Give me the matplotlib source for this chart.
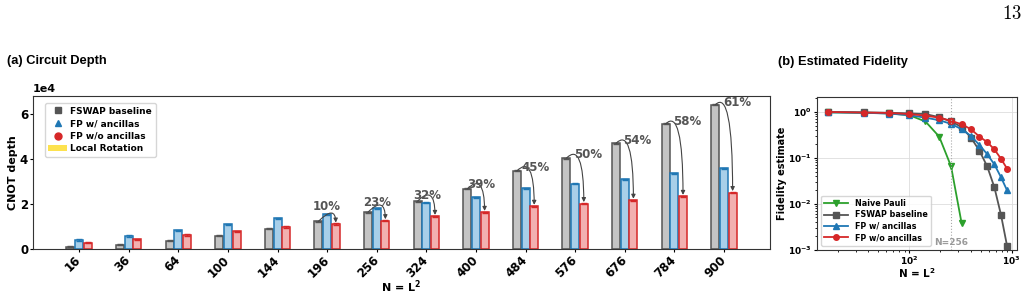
import numpy as np
import matplotlib
matplotlib.use("Agg")
import matplotlib.pyplot as plt
from matplotlib.lines import Line2D
from matplotlib.patches import Patch

plt.rcParams["font.family"] = "DejaVu Sans"
plt.rcParams["font.weight"] = "bold"
plt.rcParams["axes.labelweight"] = "bold"
plt.rcParams["mathtext.default"] = "bf"
plt.rcParams["axes.edgecolor"] = "#333333"

# --- data ---------------------------------------------------------------
n_labels = ["16", "36", "64", "100", "144", "196", "256", "324", "400",
            "484", "576", "676", "784", "900"]
n_vals = [16, 36, 64, 100, 144, 196, 256, 324, 400, 484, 576, 676, 784, 900]

depth_fswap  = [1000, 1900, 3700, 5900, 9000, 12300, 16400, 21300, 26700,
                34700, 40400, 47000, 55600, 64100]
depth_fp_anc = [4000, 5800, 8400, 10900, 13600, 15400, 18100, 20600, 23000,
                27000, 29000, 31000, 33600, 35900]
depth_fp_noanc = [2800, 4400, 6200, 7900, 9800, 11100, 12600, 14500, 16300,
                  19000, 20200, 21700, 23400, 25100]
depth_err = 250

n_naive   = [16, 36, 64, 100, 144, 196, 256, 324]
fid_naive = [0.98, 0.96, 0.93, 0.85, 0.62, 0.29, 0.065, 0.0038]
fid_fswap = [1.0, 0.98, 0.96, 0.93, 0.90, 0.77, 0.62, 0.47, 0.275, 0.143,
             0.065, 0.023, 0.0058, 0.0012]
fid_fp_anc = [0.98, 0.96, 0.92, 0.85, 0.75, 0.66, 0.55, 0.42, 0.30, 0.19,
              0.12, 0.072, 0.038, 0.0195]
fid_fp_noanc = [1.0, 0.97, 0.95, 0.90, 0.83, 0.75, 0.64, 0.54, 0.42, 0.29,
                0.22, 0.153, 0.096, 0.058]

GRAY, BLUE, RED, GREEN = "#555555", "#1f77b4", "#d62728", "#2ca02c"

fig = plt.figure(figsize=(10.28, 2.96), dpi=100)

# --- (a) circuit depth bars ---------------------------------------------
ax = fig.add_axes([0.0321, 0.1588, 0.717, 0.5169])
x = np.arange(len(n_vals))
w, off = 0.16, 0.175

series = [
    (x - off, depth_fswap, "#c4c4c4", GRAY),
    (x, depth_fp_anc, "#a8cfe9", BLUE),
    (x + off, depth_fp_noanc, "#f2b0b0", RED),
]
for xs, vals, fc, ec in series:
    ax.bar(xs, vals, width=w, color=fc, edgecolor=ec, linewidth=1.1, zorder=2)
    ax.errorbar(xs, vals, yerr=depth_err, fmt="none", ecolor=ec,
                elinewidth=1.0, capsize=2, capthick=1.0, zorder=3)

# reduction arrows FSWAP -> FP w/o ancillas
for i, (g, b, r) in enumerate(zip(depth_fswap, depth_fp_anc, depth_fp_noanc)):
    if r >= g:
        continue
    frac = (g - r) / g
    ax.annotate("", xy=(i + off, r), xytext=(i - off, g),
                arrowprops=dict(arrowstyle="-|>", color="#444444", lw=0.8,
                                mutation_scale=6, shrinkA=0, shrinkB=1,
                                connectionstyle="angle3,angleA=45,angleB=90"),
                zorder=4)
    tx = i + 0.26 * np.clip((frac - 0.3) / 0.2, 0, 1)
    ty = max(g, b) + (0.34 - 0.49 * (frac - 0.10)) * 1e4
    ax.text(tx, ty, f"{round(frac * 100)}%", ha="center", va="center",
            fontsize=8.5, fontweight="bold", color="#555555", zorder=5)

ax.set_xlim(-0.93, len(n_vals) - 1 + 0.93)
ax.set_ylim(0, 68000)
ax.set_yticks([0, 20000, 40000, 60000])
ax.ticklabel_format(axis="y", style="sci", scilimits=(4, 4))
ax.yaxis.get_offset_text().set_fontsize(8)
ax.yaxis.get_offset_text().set_fontweight("bold")
ax.set_xticks(x)
ax.set_xticklabels(n_labels, rotation=45, ha="right", va="center",
                   rotation_mode="anchor")
ax.tick_params(labelsize=8.5)
ax.tick_params(axis="x", length=2.5, pad=4)
ax.tick_params(axis="y", length=2, pad=1.5)
ax.set_ylabel("CNOT depth", fontsize=8)
ax.yaxis.set_label_coords(-0.020, 0.5)
ax.set_xlabel("N = L$^2$", fontsize=8)
ax.xaxis.set_label_coords(0.5, -0.19)

leg_handles = [
    Line2D([], [], ls="none", marker="s", color=GRAY, markersize=5),
    Line2D([], [], ls="none", marker="^", color=BLUE, markersize=5),
    Line2D([], [], ls="none", marker="o", color=RED, markersize=5),
    Patch(facecolor="#fde24f", edgecolor="none"),
]
ax.legend(leg_handles, ["FSWAP baseline", "FP w/ ancillas", "FP w/o ancillas",
                        "Local Rotation"],
          loc="upper left", bbox_to_anchor=(0.010, 0.984),
          prop={"weight": "bold", "size": 6.5}, handletextpad=0.4,
          labelspacing=0.4)

# --- (b) estimated fidelity ---------------------------------------------
bx = fig.add_axes([0.7947, 0.157, 0.1946, 0.516])
bx.plot(n_naive, fid_naive, marker="v", color=GREEN, lw=1.3, ms=4,
        label="Naive Pauli")
bx.plot(n_vals, fid_fswap, marker="s", color=GRAY, lw=1.3, ms=4,
        label="FSWAP baseline")
bx.plot(n_vals, fid_fp_anc, marker="^", color=BLUE, lw=1.3, ms=4,
        label="FP w/ ancillas")
bx.plot(n_vals, fid_fp_noanc, marker="o", color=RED, lw=1.3, ms=4,
        label="FP w/o ancillas")
bx.set_xscale("log")
bx.set_yscale("log")
bx.set_xlim(12.6, 1125)
bx.set_ylim(1e-3, 2.14)
bx.grid(True, which="major", color="#dddddd", lw=0.6)
bx.axvline(256, color="#aaaaaa", ls=":", lw=0.8)
bx.text(256, 1.45e-3, "N=256", ha="center", va="center", fontsize=6.5,
        fontweight="bold", color="#999999")
bx.tick_params(labelsize=6.5, pad=1.5)
bx.tick_params(which="both", length=2.5)
bx.tick_params(which="minor", length=1.5)
bx.set_ylabel("Fidelity estimate", fontsize=7)
bx.yaxis.set_label_coords(-0.15, 0.5)
bx.set_xlabel("N = L$^2$", fontsize=7.5)
bx.xaxis.set_label_coords(0.5, -0.11)
bx.legend(loc="lower left", prop={"weight": "bold", "size": 5.8},
          handlelength=3.0, labelspacing=0.3)

# --- titles ---------------------------------------------------------------
fig.text(0.007, 0.794, "(a) Circuit Depth", family="Liberation Sans",
         fontweight="bold", fontsize=9.3, va="center")
fig.text(0.757, 0.792, "(b) Estimated Fidelity", family="Liberation Sans",
         fontweight="bold", fontsize=9.3, va="center")
fig.text(0.994, 0.953, r"$\mathrm{13}$", math_fontfamily="cm",
         fontsize=13.5, ha="right", va="center")

fig.savefig("out.png", dpi=100)
